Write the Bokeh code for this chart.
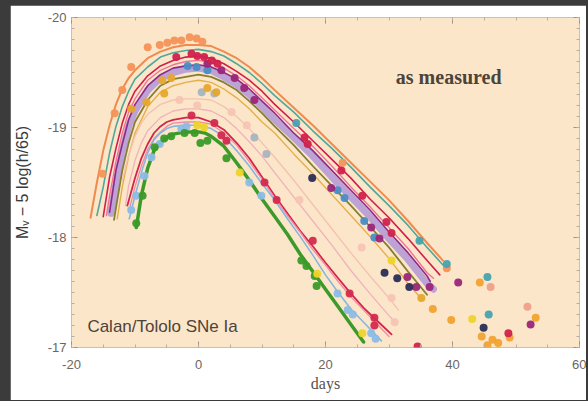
import numpy as np
from bokeh.plotting import figure
from bokeh.models import Range1d, FixedTicker, LinearAxis, Label
from bokeh.embed import file_html
from bokeh.resources import INLINE

# ---------------- template fits (day, M_V - 5 log(h/65)) ----------------
ORANGE_DAYS = [-17, -16, -15, -14, -13, -12, -11, -10, -8, -6, -4, -2, 0, 2, 4, 6, 8, 10, 12, 15, 18, 21, 24, 27, 30, 33, 36, 38.5]
ORANGE_FIT = [-18.18, -18.50, -18.79, -19.02, -19.21, -19.35, -19.45, -19.52, -19.63, -19.69, -19.73, -19.75, -19.75, -19.74, -19.69, -19.63, -19.55, -19.45, -19.34, -19.18, -19.02, -18.85, -18.68, -18.51, -18.34, -18.15, -17.95, -17.79]

TEAL_DAYS = [-16, -15, -14, -13, -12, -11, -10, -8, -6, -4, -2, 0, 2, 4, 6, 8, 10, 12, 15, 18, 21, 24, 27, 30, 33, 36, 38.5]
TEAL_FIT = [-18.20, -18.46, -18.77, -19.01, -19.19, -19.33, -19.44, -19.55, -19.64, -19.68, -19.70, -19.71, -19.69, -19.65, -19.58, -19.50, -19.40, -19.29, -19.14, -18.97, -18.81, -18.64, -18.46, -18.29, -18.11, -17.91, -17.75]

CRIMSON_DAYS = [-15, -14, -13, -12, -11, -10, -8, -6, -4, -2, 0, 2, 4, 6, 8, 10, 12, 15, 18, 21, 24, 27, 30, 33, 36, 38]
CRIMSON_FIT = [-18.19, -18.55, -18.81, -19.04, -19.21, -19.33, -19.47, -19.56, -19.61, -19.64, -19.65, -19.63, -19.58, -19.51, -19.43, -19.33, -19.21, -19.05, -18.88, -18.71, -18.54, -18.35, -18.18, -17.99, -17.79, -17.66]

PINK_DAYS = [-14.5, -14, -13, -12, -11, -10, -8, -6, -4, -2, 0, 2, 4, 6, 8, 10, 12, 15, 18, 21, 24, 27, 30, 33, 36, 37]
PINK_FIT = [-18.20, -18.38, -18.69, -18.95, -19.14, -19.26, -19.43, -19.52, -19.57, -19.60, -19.61, -19.59, -19.54, -19.47, -19.38, -19.27, -19.16, -18.99, -18.83, -18.65, -18.46, -18.28, -18.09, -17.90, -17.68, -17.63]

PLUM_DAYS = [-14, -13, -12, -11, -10, -8, -6, -4, -2, 0, 2, 4, 6, 8, 10, 12, 15, 18, 21, 24, 27, 30, 33, 36, 36.5]
PLUM_FIT = [-18.23, -18.61, -18.85, -19.07, -19.21, -19.38, -19.48, -19.54, -19.56, -19.57, -19.55, -19.50, -19.44, -19.35, -19.24, -19.13, -18.95, -18.79, -18.61, -18.43, -18.25, -18.05, -17.86, -17.65, -17.60]

LAVENDER_DAYS = [-13.8, -13, -12, -11, -10, -8, -6, -4, -2, 0, 2, 4, 6, 8, 10, 12, 15, 18, 21, 24, 27, 30, 33, 36, 37]
LAVENDER_FIT = [-18.22, -18.49, -18.78, -19.01, -19.15, -19.34, -19.45, -19.50, -19.53, -19.54, -19.52, -19.46, -19.39, -19.30, -19.19, -19.07, -18.91, -18.74, -18.55, -18.37, -18.19, -17.99, -17.80, -17.58, -17.53]

OLIVE_DAYS = [-13.3, -13, -12, -11, -10, -8, -6, -4, -2, 0, 2, 4, 6, 8, 10, 12, 15, 18, 21, 24, 27, 30, 33, 36]
OLIVE_FIT = [-18.16, -18.27, -18.61, -18.86, -19.05, -19.25, -19.38, -19.44, -19.46, -19.48, -19.46, -19.41, -19.34, -19.24, -19.13, -19.01, -18.84, -18.65, -18.47, -18.29, -18.10, -17.91, -17.69, -17.48]

GOLD_DAYS = [-12.8, -12, -11, -10, -8, -6, -4, -2, 0, 2, 4, 6, 8, 10, 12, 15, 18, 21, 24, 27, 30, 33, 35]
GOLD_FIT = [-18.17, -18.46, -18.74, -18.95, -19.19, -19.32, -19.38, -19.41, -19.43, -19.41, -19.35, -19.27, -19.17, -19.05, -18.95, -18.76, -18.58, -18.39, -18.20, -18.01, -17.81, -17.58, -17.45]

PEACH_DAYS = [-12, -11, -10, -9, -8, -6, -4, -2, 0, 2, 4, 6, 8, 10, 12, 15, 18, 21, 24, 27, 30, 31.5]
PEACH_FIT = [-18.52, -18.75, -18.92, -19.04, -19.12, -19.21, -19.25, -19.26, -19.26, -19.25, -19.19, -19.10, -18.99, -18.86, -18.73, -18.52, -18.30, -18.08, -17.86, -17.65, -17.45, -17.34]

ROSE_DAYS = [-11.5, -11, -10, -9, -8, -6, -4, -2, 0, 2, 4, 6, 8, 10, 12, 15, 18, 21, 24, 27, 30, 31]
ROSE_FIT = [-18.29, -18.47, -18.70, -18.86, -18.97, -19.09, -19.15, -19.17, -19.17, -19.15, -19.09, -18.99, -18.87, -18.74, -18.59, -18.37, -18.15, -17.93, -17.70, -17.49, -17.29, -17.23]

RED_DAYS = [-11.2, -10, -9, -8, -7, -6, -5, -4, -2, -1, 0, 2, 4, 6, 8, 10, 12, 14, 16, 18, 20, 22, 24, 26, 28, 30.4]
RED_FIT = [-18.29, -18.54, -18.72, -18.85, -18.95, -19.01, -19.05, -19.07, -19.09, -19.09, -19.09, -19.05, -18.98, -18.86, -18.72, -18.55, -18.38, -18.22, -18.06, -17.92, -17.77, -17.63, -17.49, -17.36, -17.25, -17.12]

SALMON_DAYS = [-11, -10, -9, -8, -7, -6, -5, -4, -2, 0, 2, 4, 6, 8, 10, 12, 14, 16, 18, 20, 22, 24, 26, 28, 30]
SALMON_FIT = [-18.23, -18.46, -18.65, -18.80, -18.90, -18.96, -19.01, -19.04, -19.05, -19.05, -19.03, -18.95, -18.84, -18.69, -18.53, -18.36, -18.20, -18.05, -17.89, -17.75, -17.60, -17.46, -17.34, -17.22, -17.10]

SKY_DAYS = [-10.9, -10, -9, -8, -7, -6, -5, -4, -2, 0, 2, 4, 6, 8, 10, 12, 14, 16, 18, 20, 22, 24, 26, 28.8]
SKY_FIT = [-18.17, -18.38, -18.59, -18.77, -18.89, -18.95, -18.99, -19.01, -19.02, -19.02, -18.99, -18.92, -18.79, -18.65, -18.49, -18.34, -18.17, -18.01, -17.84, -17.66, -17.50, -17.35, -17.23, -17.06]

GREEN_DAYS = [-9.8, -9, -8, -7, -6, -5, -4, -2, -1, 0, 1, 2, 4, 6, 8, 10, 12, 14, 16, 18, 20, 22, 24, 26]
GREEN_FIT = [-18.09, -18.38, -18.63, -18.79, -18.86, -18.91, -18.94, -18.96, -18.96, -18.96, -18.95, -18.92, -18.83, -18.68, -18.52, -18.35, -18.19, -18.03, -17.85, -17.69, -17.53, -17.37, -17.21, -17.05]

# ---------------- measured points ----------------
ORANGE_PTS_DAY = [-15.1, -13.2, -12.0, -10.6, -8.0, -6.1, -4.9, -3.8, -2.7, -1.4, -0.3, 0.6, 22.7, 39.1]
ORANGE_PTS_MAG = [-18.58, -19.13, -19.34, -19.55, -19.73, -19.75, -19.77, -19.79, -19.79, -19.82, -19.81, -19.78, -18.68, -17.72]

AMBER_PTS_DAY = [36.9, 39.8, 44.3, 44.6, 45.5, 46.3, 47.2, 49.0, 53.1]
AMBER_PTS_MAG = [-17.35, -17.25, -17.59, -17.10, -17.02, -17.07, -17.04, -17.09, -17.27]

CRIMSON_PTS_DAY = [-3.5, -1.1, -0.2, 0.9, 2.1, 3.0, 16.7, 17.2, 22.5, 25.8, 29.6, 30.4, 48.8, 34.5]
CRIMSON_PTS_MAG = [-19.64, -19.67, -19.65, -19.64, -19.61, -19.58, -18.91, -18.85, -18.61, -18.38, -18.14, -18.04, -17.13, -17.01]

PLUM_PTS_DAY = [1.4, 3.6, 5.7, 7.2, 8.8, 20.9, 27.2, 28.5, 32.9, 34.3, 36.4, 40.9, 52.3]
PLUM_PTS_MAG = [-19.58, -19.52, -19.45, -19.36, -19.25, -18.45, -18.09, -17.99, -17.64, -17.55, -17.55, -17.59, -17.21]

BLUE_PTS_DAY = [-1.7, -0.3, 1.4, 21.9, 23.0, 26.1, 27.7]
BLUE_PTS_MAG = [-19.56, -19.55, -19.52, -18.43, -18.36, -18.15, -18.00]

NAVY_PTS_DAY = [17.9, 29.3, 31.3, 33.2, 44.9]
NAVY_PTS_MAG = [-18.54, -17.68, -17.63, -17.55, -17.18]

GOLD_PTS_DAY = [-10.6, -8.2, -5.7, -5.4, -4.3, 1.4, 2.8, 35.1]
GOLD_PTS_MAG = [-19.17, -19.23, -19.43, -19.31, -19.45, -19.36, -19.32, -17.45]

TEAL_PTS_DAY = [15.4, 34.8, 39.1, 45.7, 45.5]
TEAL_PTS_MAG = [-19.04, -17.97, -17.76, -17.30, -17.64]

PEACH_PTS_DAY = [-3.0, -0.2, 5.2, 7.6, 15.9, 25.7, 30.4, 30.9]
PEACH_PTS_MAG = [-19.25, -19.20, -19.14, -19.02, -18.34, -17.91, -17.45, -17.23]

SALMON_PTS_DAY = [46.0, 51.8]
SALMON_PTS_MAG = [-17.55, -17.37]

GRAY_PTS_DAY = [0.5, 2.5, 8.8, 10.7]
GRAY_PTS_MAG = [-19.32, -19.31, -18.91, -18.76]

RED_PTS_DAY = [-1.1, 2.5, 3.6, 4.4, 10.4, 12.3, 18.0, 23.8, 27.7, 27.7]
RED_PTS_MAG = [-19.11, -19.04, -18.93, -18.88, -18.50, -18.34, -17.97, -17.49, -17.27, -17.20]

SKY_PTS_DAY = [-10.6, -9.8, -8.5, -7.4, -6.1, -2.7, -1.9, 8.0, 9.9, 21.9, 23.5, 24.3, 27.2, 27.9]
SKY_PTS_MAG = [-18.25, -18.38, -18.56, -18.73, -18.85, -18.99, -19.01, -18.50, -18.38, -17.49, -17.34, -17.30, -17.13, -17.08]

GREEN_PTS_DAY = [-9.8, -8.8, -6.9, -5.4, -4.3, -2.2, -0.6, 0.3, 1.4, 4.4, 16.2, 17.0, 18.3, 18.6]
GREEN_PTS_MAG = [-18.13, -18.38, -18.82, -18.90, -18.92, -18.95, -18.95, -18.86, -18.88, -18.72, -17.79, -17.74, -17.65, -17.56]

YELLOW_PTS_DAY = [-0.2, 0.9, 6.5, 18.7, 25.8, 30.4, 43.1]
YELLOW_PTS_MAG = [-19.02, -19.00, -18.59, -17.67, -17.13, -17.79, -17.26]

X_MAJOR = [-20, 0, 20, 40, 60]
Y_MAJOR = [-20, -19, -18, -17]
X_LABELS = ["-20", "0", "20", "40", "60"]
Y_LABELS = ["-20", "-19", "-18", "-17"]

# ---------------- figure ----------------
p = figure(frame_width=508, frame_height=330,
           x_range=Range1d(-20, 60), y_range=Range1d(-17, -20),
           output_backend="svg", toolbar_location=None,
           min_border_left=57, min_border_right=7, min_border_top=12, min_border_bottom=53,
           background_fill_color="#fce6c9", border_fill_color="#ffffff",
           outline_line_color="#cbbfae", outline_line_width=1)
p.grid.visible = False

xt = FixedTicker(ticks=X_MAJOR, minor_ticks=list(range(-20, 61, 5)))
yt = FixedTicker(ticks=Y_MAJOR, minor_ticks=[round(v, 1) for v in np.arange(-20.0, -16.95, 0.1)])


def style_axis(ax, labels=True):
    ax.axis_line_color = None
    ax.major_tick_in = 6
    ax.major_tick_out = 0
    ax.minor_tick_in = 3
    ax.minor_tick_out = 0
    ax.major_tick_line_color = "#9d9385"
    ax.minor_tick_line_color = "#b8ad9e"
    if labels:
        ax.major_label_text_font = "Liberation Sans"
        ax.major_label_text_font_size = "13px"
        ax.major_label_text_color = "#6b6661"
    else:
        ax.major_label_text_font_size = "0px"
        ax.major_label_text_alpha = 0
        ax.major_label_standoff = 0


p.xaxis[0].ticker = xt
p.yaxis[0].ticker = yt
style_axis(p.xaxis[0])
style_axis(p.yaxis[0])
p.xaxis[0].major_label_overrides = {float(t): s for t, s in zip(X_MAJOR, X_LABELS)}
p.yaxis[0].major_label_overrides = {float(t): s for t, s in zip(Y_MAJOR, Y_LABELS)}
p.xaxis[0].major_label_standoff = 12
p.yaxis[0].major_label_standoff = 5
p.xaxis[0].axis_label = "days"
p.xaxis[0].axis_label_text_font = "Liberation Serif"
p.xaxis[0].axis_label_text_font_style = "normal"
p.xaxis[0].axis_label_text_font_size = "16px"
p.xaxis[0].axis_label_text_color = "#5a5048"
p.xaxis[0].axis_label_standoff = 3
p.yaxis[0].axis_label = "M\u1d65 \u2212 5 log(h/65)"
p.yaxis[0].axis_label_text_font = "Liberation Sans"
p.yaxis[0].axis_label_text_font_style = "normal"
p.yaxis[0].axis_label_text_font_size = "16px"
p.yaxis[0].axis_label_text_color = "#3a3a3a"
p.yaxis[0].axis_label_standoff = 14

top_ax = LinearAxis(ticker=xt)
right_ax = LinearAxis(ticker=yt)
style_axis(top_ax, labels=False)
style_axis(right_ax, labels=False)
p.add_layout(top_ax, "above")
p.add_layout(right_ax, "right")

# ---------------- template curves ----------------
fits = [
    (LAVENDER_DAYS, LAVENDER_FIT, "#b59ad6", 7.0, 0.9),
    (ORANGE_DAYS, ORANGE_FIT, "#f08a4e", 2.0, 1.0),
    (TEAL_DAYS, TEAL_FIT, "#4fa898", 1.6, 1.0),
    (CRIMSON_DAYS, CRIMSON_FIT, "#d01f4b", 1.6, 1.0),
    (PINK_DAYS, PINK_FIT, "#ee7398", 1.4, 1.0),
    (PLUM_DAYS, PLUM_FIT, "#8e2a86", 1.6, 1.0),
    (OLIVE_DAYS, OLIVE_FIT, "#857f30", 1.8, 1.0),
    (GOLD_DAYS, GOLD_FIT, "#e2a83a", 1.4, 0.9),
    (PEACH_DAYS, PEACH_FIT, "#f4c2b2", 1.4, 1.0),
    (ROSE_DAYS, ROSE_FIT, "#f1b0bc", 1.3, 1.0),
    (RED_DAYS, RED_FIT, "#d3254c", 1.8, 1.0),
    (SALMON_DAYS, SALMON_FIT, "#f08aa2", 1.3, 1.0),
    (SKY_DAYS, SKY_FIT, "#86b6e0", 1.6, 1.0),
    (GREEN_DAYS, GREEN_FIT, "#3d9a2a", 3.5, 1.0),
]
for d, m, c, w, a in fits:
    p.line(d, m, line_color=c, line_width=w, line_alpha=a, line_join="round", line_cap="round")

# ---------------- data points ----------------
pts = [
    (PEACH_PTS_DAY, PEACH_PTS_MAG, "#f7c4b4"),
    (GRAY_PTS_DAY, GRAY_PTS_MAG, "#a9b4bf"),
    (ORANGE_PTS_DAY, ORANGE_PTS_MAG, "#f4935a"),
    (AMBER_PTS_DAY, AMBER_PTS_MAG, "#f1a330"),
    (SALMON_PTS_DAY, SALMON_PTS_MAG, "#eea08a"),
    (GOLD_PTS_DAY, GOLD_PTS_MAG, "#e6a62c"),
    (TEAL_PTS_DAY, TEAL_PTS_MAG, "#45a3b0"),
    (BLUE_PTS_DAY, BLUE_PTS_MAG, "#4a8dc6"),
    (PLUM_PTS_DAY, PLUM_PTS_MAG, "#9b2579"),
    (CRIMSON_PTS_DAY, CRIMSON_PTS_MAG, "#d0224c"),
    (NAVY_PTS_DAY, NAVY_PTS_MAG, "#2a2c55"),
    (SKY_PTS_DAY, SKY_PTS_MAG, "#8cbce6"),
    (GREEN_PTS_DAY, GREEN_PTS_MAG, "#3b9a28"),
    (YELLOW_PTS_DAY, YELLOW_PTS_MAG, "#eed42a"),
    (RED_PTS_DAY, RED_PTS_MAG, "#d42a4e"),
]
for d, m, c in pts:
    p.scatter(d, m, size=8, fill_color=c, line_color=None, fill_alpha=0.95)

# ---------------- annotations ----------------
p.add_layout(Label(x=39.4, y=-19.455, text="as measured", text_font="Liberation Serif",
                   text_font_size="20px", text_font_style="bold", text_color="#4d4339",
                   text_align="center", text_baseline="alphabetic"))
p.add_layout(Label(x=-17.5, y=-17.19, text="Calan/Tololo SNe Ia", text_font="Liberation Sans",
                   text_font_size="17px", text_color="#4d4339", text_baseline="alphabetic"))

html = file_html(p, INLINE, title="Calan/Tololo SNe Ia")
html = html.replace("</head>",
                    "<style>html, body { background: #3b3b3b; } body { padding: 5px 0 0 10px; }</style></head>", 1)
open("out.html", "w").write(html)
